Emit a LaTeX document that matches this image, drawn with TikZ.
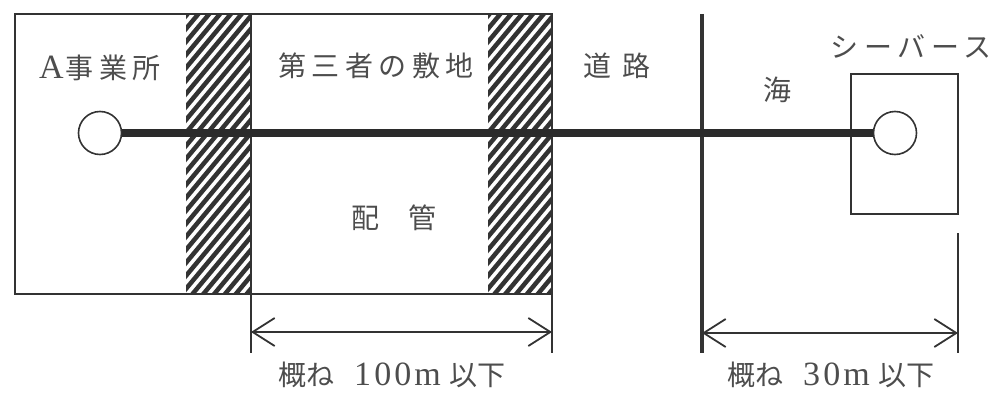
\documentclass[tikz,border=0pt]{standalone}
\usepackage{fontspec}
\usetikzlibrary{arrows.meta}
\newfontfamily\jpfont[LetterSpace=20]{Noto Sans CJK JP}
\newfontfamily\jpplain{Noto Sans CJK JP}
\newfontfamily\latfont[LetterSpace=9]{Liberation Serif}
\definecolor{linegray}{HTML}{333333}
\definecolor{pipegray}{HTML}{2B2B2B}
\definecolor{textgray}{HTML}{4D4D4D}
\newcommand\latbig[1]{{\latfont\fontsize{34}{34}\selectfont #1}}

\begin{document}
\begin{tikzpicture}[x=1pt,y=-1pt,
  wall/.style={line width=1.8pt,draw=linegray},
  hatchline/.style={line width=4.5pt,draw=linegray},
  pipe/.style={line width=8pt,draw=pipegray},
  valve/.style={circle,draw=linegray,line width=1.6pt,fill=white,minimum size=43pt,inner sep=0pt},
  lbl/.style={text=textgray,inner sep=0pt,font=\jpfont\fontsize{28}{28}\selectfont},
  dimlbl/.style={text=textgray,inner sep=0pt,font=\jpplain\fontsize{28}{28}\selectfont},
  dim/.style={line width=1.8pt,draw=linegray,{Straight Barb[length=22pt,width=28pt]}-{Straight Barb[length=22pt,width=28pt]}}]
\useasboundingbox (0,0) rectangle (998,396);
\foreach \xa/\xb in {186/251,488/552}{
  \begin{scope}
    \clip (\xa,14) rectangle (\xb,294);
    \foreach \y in {10,23,...,400}
      \draw[hatchline] (\xa-6,\y) -- ++(80,-96);
  \end{scope}
}
\draw[wall] (15,14) rectangle (552,294);
\draw[wall] (251,14) -- (251,353);
\draw[wall] (552,294) -- (552,353);
\draw[line width=4pt,draw=linegray] (702,14) -- (702,353);
\node[draw=linegray,line width=1.8pt,minimum width=107pt,minimum height=140pt,inner sep=0pt] (berth) at (904.5,144) {};
\draw[wall] (958,233) -- (958,353);
\node[valve] (srcvalve) at (100,133) {};
\node[valve] (dstvalve) at (895,133) {};
\draw[pipe] (srcvalve) -- (dstvalve);
\node[lbl] (jigyosho) at (100,68) {\latbig{A}\hspace{2pt}事業所};
\node[lbl] (shikichi) at (376,66) {第三者の敷地};
\node[lbl] (doro) at (617,66) {道\hspace{12pt}路};
\node[lbl] (umi) at (777,90) {海};
\node[lbl] (berthlbl) at (911,46) {シーバース};
\node[lbl] (haikan) at (394,218) {配\hspace{30pt}管};
\coordinate (dimAa) at (251,332);
\coordinate (dimAb) at (552,332);
\coordinate (dimBa) at (702,333);
\coordinate (dimBb) at (958,333);
\draw[dim] (dimAa) -- (dimAb);
\draw[dim] (dimBa) -- (dimBb);
\node[dimlbl] (dimAlbl) at (392,375) {概ね\hspace{20pt}\latbig{100m}\hspace{9pt}以下};
\node[dimlbl] (dimBlbl) at (831,375) {概ね\hspace{20pt}\latbig{30m}\hspace{9pt}以下};
\end{tikzpicture}
\end{document}
